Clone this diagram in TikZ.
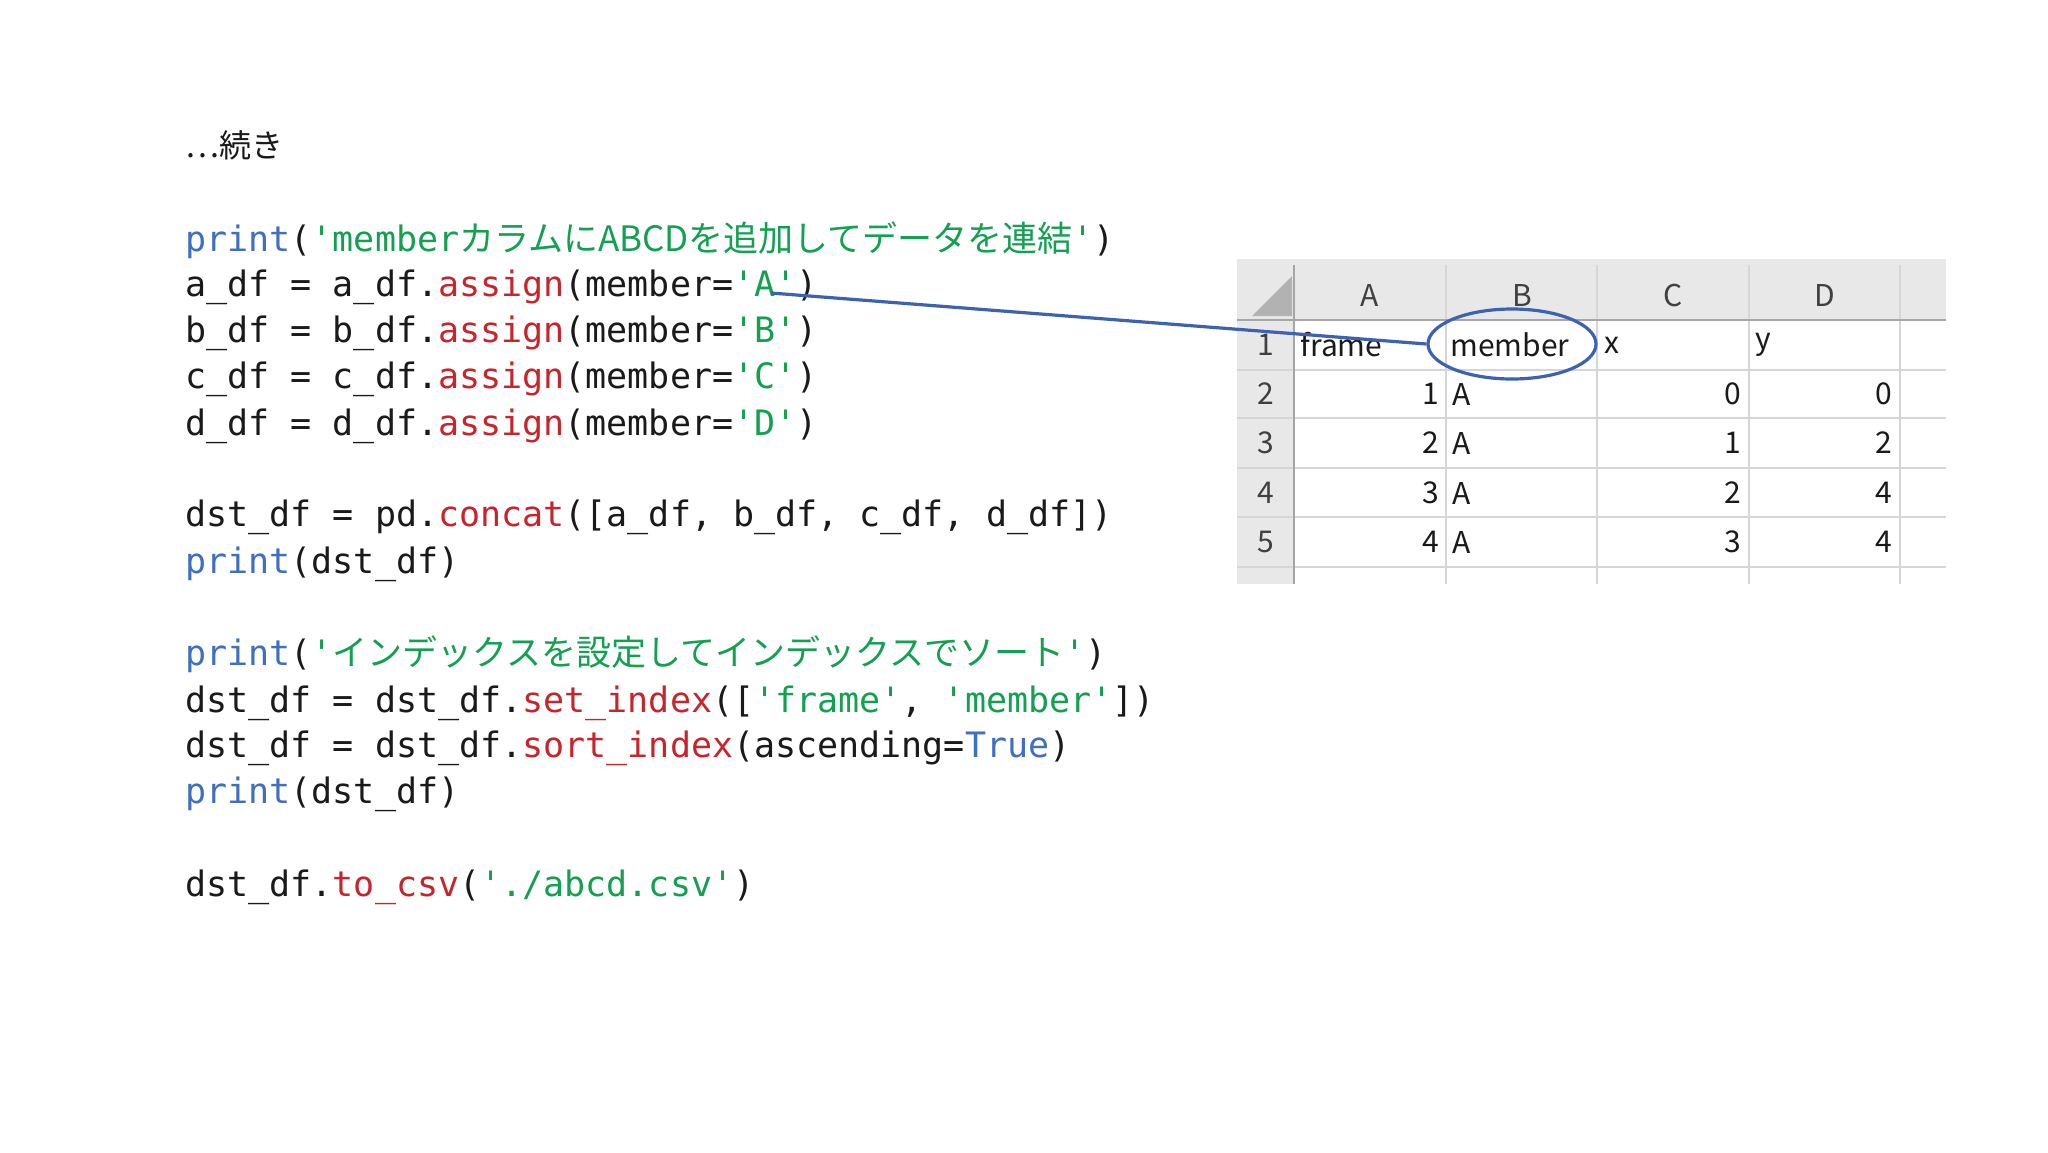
\documentclass[tikz,border=0pt]{standalone}
\usepackage{fontspec}
\usetikzlibrary{shapes.geometric}
\newfontfamily\codef{DejaVu Sans Mono}
\newfontfamily\jp{Noto Sans CJK JP}
\definecolor{kwb}{HTML}{3F6FC0}
\definecolor{strg}{HTML}{12A150}
\definecolor{mthr}{HTML}{C8242B}
\definecolor{txt}{HTML}{1A1A1A}
\definecolor{hdr}{HTML}{E8E8E8}
\definecolor{grd}{HTML}{D6D6D6}
\definecolor{ell}{HTML}{3D62B0}
\newcommand\q{\char"27\relax}
\newcommand\kb[1]{\textcolor{kwb}{#1}}
\newcommand\kg[1]{\textcolor{strg}{#1}}
\newcommand\kr[1]{\textcolor{mthr}{#1}}
\begin{document}
\begin{tikzpicture}[x=0.5pt,y=-0.5pt,
  codeline/.style={anchor=west,inner sep=0,text=txt,font=\codef\fontsize{17.5}{20}\selectfont},
  cell/.style={inner sep=0,text=txt,font=\jp\fontsize{15}{18}\selectfont},
  hcell/.style={cell,text=black!75}]
\useasboundingbox (0,0) rectangle (2048,1152);
\fill[white] (0,0) rectangle (2048,1152);
\node[anchor=west,inner sep=0,text=txt,font=\jp\fontsize{16}{18}\selectfont] (title) at (185,145) {…続き};
\node[codeline] (l1) at (185,240) {\kb{print}(\kg{\q member{\jp カラムにABCDを追加してデータを連結}\q})};
\node[codeline] (l2) at (185,287) {a\_df = a\_df.\kr{assign}(member=\kg{\q A\q})};
\node[codeline] (l3) at (185,333) {b\_df = b\_df.\kr{assign}(member=\kg{\q B\q})};
\node[codeline] (l4) at (185,379) {c\_df = c\_df.\kr{assign}(member=\kg{\q C\q})};
\node[codeline] (l5) at (185,426) {d\_df = d\_df.\kr{assign}(member=\kg{\q D\q})};
\node[codeline] (l6) at (185,517) {dst\_df = pd.\kr{concat}([a\_df, b\_df, c\_df, d\_df])};
\node[codeline] (l7) at (185,564) {\kb{print}(dst\_df)};
\node[codeline] (l8) at (185,654) {\kb{print}(\kg{\q{\jp インデックスを設定してインデックスでソート}\q})};
\node[codeline] (l9) at (185,703) {dst\_df = dst\_df.\kr{set\_index}([\kg{\q frame\q}, \kg{\q member\q}])};
\node[codeline] (l10) at (185,748) {dst\_df = dst\_df.\kr{sort\_index}(ascending=\kb{True})};
\node[codeline] (l11) at (185,794) {\kb{print}(dst\_df)};
\node[codeline] (l12) at (185,887) {dst\_df.\kr{to\_csv}(\kg{\q./abcd.csv\q})};
% spreadsheet
\fill[hdr] (1237,259) rectangle (1946,320);
\fill[hdr] (1237,259) rectangle (1294,584);
\fill[black!30] (1252,316) -- (1292,316) -- (1292,276) -- cycle;
\foreach \xx in {1446,1597,1749,1900} \draw[grd,line width=1pt] (\xx,265) -- (\xx,584);
\foreach \yy in {370,418,468,517,567} \draw[grd,line width=1pt] (1237,\yy) -- (1946,\yy);
\draw[black!35,line width=1.2pt] (1237,320) -- (1946,320);
\draw[black!35,line width=1.2pt] (1294,265) -- (1294,584);
\foreach \c/\xx in {A/1370,B/1522,C/1673,D/1825} \node[hcell] at (\xx,295) {\c};
\foreach \r/\yy in {1/345,2/394,3/443,4/493,5/542} \node[hcell] at (1266,\yy) {\r};
\node[cell,anchor=west] (frame) at (1300,345) {frame};
\node[cell,anchor=west] at (1604,345) {x};
\node[cell,anchor=west] at (1755,345) {y};
\node[cell] (memb) at (1510,345) {member};
\foreach \n/\xa/\xc/\yy in {1/0/0/394,2/1/2/443,3/2/4/493,4/3/4/542}{
  \node[cell,anchor=east] at (1440,\yy) {\n};
  \node[cell,anchor=west] at (1452,\yy) {A};
  \node[cell,anchor=east] at (1742,\yy) {\xa};
  \node[cell,anchor=east] at (1893,\yy) {\xc};
}
\node[draw=ell,line width=1.6pt,ellipse,minimum width=84pt,minimum height=35pt,inner sep=0] (circ) at (1512,344) {};
\coordinate (src) at (771,293);
\draw[ell,line width=1.6pt] (src) -- (circ.west);
\end{tikzpicture}
\end{document}
